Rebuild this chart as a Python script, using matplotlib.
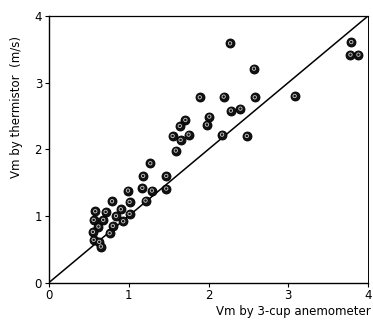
import matplotlib
matplotlib.use("Agg")
import matplotlib.pyplot as plt
import numpy as np

# Mean wind speed: 3-cup anemometer (x) vs thermistor (y), m/s
vm_cup = [2.27, 3.79, 3.78, 3.88, 2.57, 1.89, 2.19, 2.58, 3.08, 2.28,
          2.40, 2.01, 1.98, 1.71, 1.64, 1.55, 1.65, 1.75, 2.17, 2.48,
          1.59, 1.27, 1.18, 1.47, 1.17, 1.29, 1.47, 0.99, 0.79, 1.01,
          1.21, 0.58, 0.71, 0.90, 0.84, 1.01, 0.56, 0.68, 0.93, 0.62,
          0.80, 0.55, 0.76, 0.56, 0.63, 0.65]
vm_thermistor = [3.59, 3.61, 3.42, 3.42, 3.21, 2.78, 2.79, 2.78, 2.80, 2.58,
                 2.61, 2.49, 2.37, 2.44, 2.35, 2.20, 2.14, 2.22, 2.22, 2.20,
                 1.98, 1.79, 1.60, 1.60, 1.42, 1.38, 1.41, 1.38, 1.22, 1.21,
                 1.23, 1.07, 1.06, 1.10, 1.00, 1.03, 0.94, 0.94, 0.92, 0.84,
                 0.85, 0.76, 0.74, 0.64, 0.61, 0.54]

# 1:1 reference line
line_x = [0, 4]
line_y = [0, 4]

ticks = [0, 1, 2, 3, 4]

fig = plt.figure(figsize=(3.73, 3.24), dpi=100)
ax = fig.add_axes([0.1314, 0.128, 0.8552, 0.8226])

ax.plot(line_x, line_y, color="black", lw=1.1, zorder=2)
ax.scatter(vm_cup, vm_thermistor, s=42, c="#111111", edgecolors="black",
           linewidths=0.6, zorder=3)
# small light centre on each dot
ax.scatter(vm_cup, vm_thermistor, s=6, facecolors="none", edgecolors="#cccccc",
           linewidths=0.6, zorder=4)

ax.set_xlim(0, 4)
ax.set_ylim(0, 4)
ax.set_xticks(ticks)
ax.set_yticks(ticks)
ax.tick_params(direction="out", length=3, width=0.8, labelsize=8.5, pad=2)
for sp in ax.spines.values():
    sp.set_linewidth(1.0)
ax.spines["right"].set_linewidth(0.7)
ax.spines["top"].set_linewidth(0.9)

fig.text(0.995, 0.04, "Vm by 3-cup anemometer", ha="right", va="center",
         fontsize=8.5)
fig.text(0.045, 0.67, "Vm by thermistor  (m/s)", rotation=90, ha="center",
         va="center", fontsize=8.5)

fig.savefig("out.png", dpi=100)
